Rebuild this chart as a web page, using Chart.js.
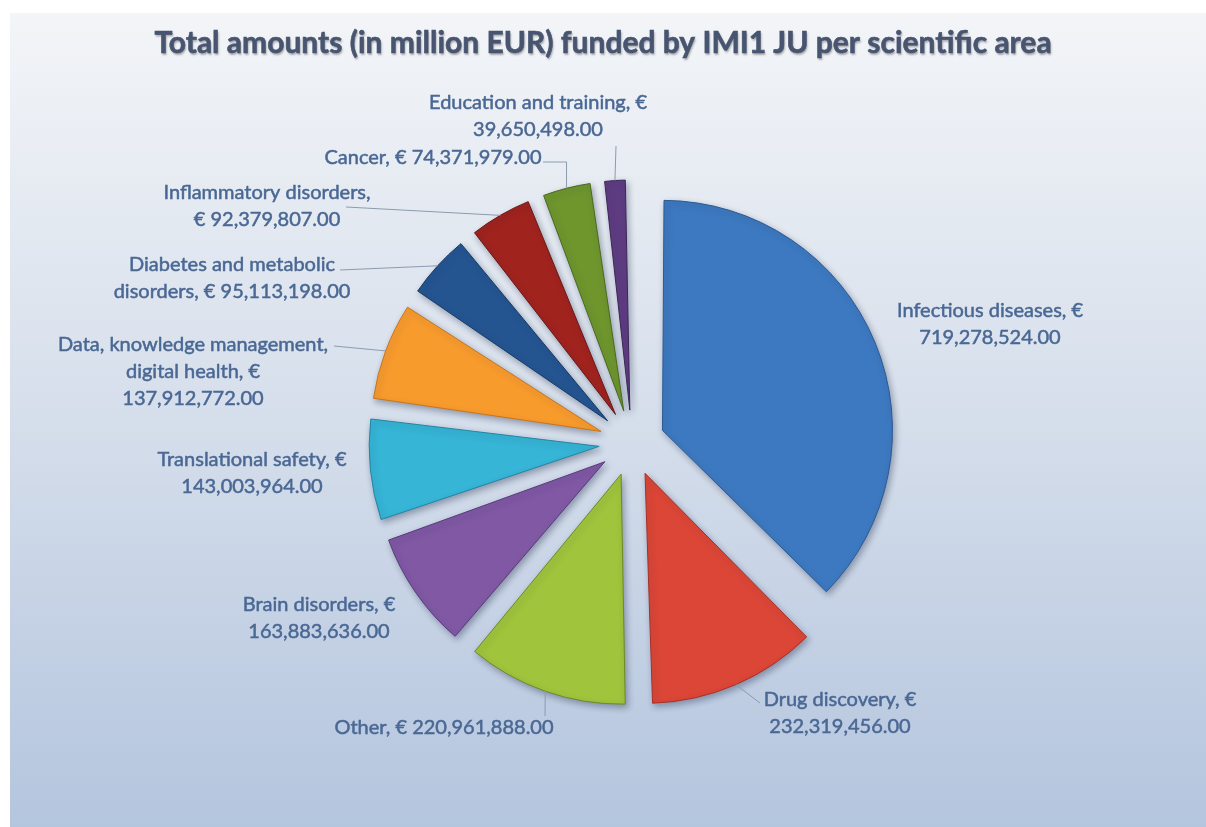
<!DOCTYPE html>
<html>
<head>
<meta charset="utf-8">
<script src="https://cdn.jsdelivr.net/npm/chart.js"></script>
<style>
  html, body { margin: 0; padding: 0; background: #fff; }
  #wrap { width: 1206px; height: 827px; position: relative; }
</style>
</head>
<body>
<div id="wrap"><canvas id="areaChart"></canvas></div>
<script>
// data
const areas = ['Infectious diseases', 'Drug discovery', 'Other', 'Brain disorders',
  'Translational safety', 'Data, knowledge management, digital health',
  'Diabetes and metabolic disorders', 'Inflammatory disorders', 'Cancer', 'Education and training'];
const amounts = [719278524.00, 232319456.00, 220961888.00, 163883636.00, 143003964.00,
  137912772.00, 95113198.00, 92379807.00, 74371979.00, 39650498.00];
const titleText = 'Total amounts (in million EUR) funded by IMI1 JU per scientific area';

const sliceColors = ['#3d79c0', '#db4636', '#a0c43c', '#8058a4', '#36b5d6',
  '#f89b2d', '#245591', '#a0231e', '#6e962d', '#5f3c82'];
const edgeColors = ['#2b5a94', '#a8302a', '#6d8a25', '#5a3a7c', '#2286a3',
  '#c8761a', '#173a66', '#6e1612', '#4a6a1d', '#3e2658'];

// label layout: words per line, centre x, y of first line, leader anchor (null = none)
const labelLayout = [
  {lines: [3, 1], x: 990, y: 311, anchor: null},
  {lines: [3, 1], x: 840, y: 700, anchor: [760, 703]},
  {lines: [3], x: 444, y: 728, anchor: [545, 716]},
  {lines: [3, 1], x: 319, y: 605, anchor: null},
  {lines: [3, 1], x: 252, y: 460, anchor: null},
  {lines: [3, 3, 1], x: 193, y: 345, anchor: [334, 346]},
  {lines: [3, 3], x: 232, y: 265, anchor: [340, 270]},
  {lines: [2, 2], x: 267, y: 193, anchor: [346, 207]},
  {lines: [3], x: 433, y: 158, anchor: [543, 162], elbow: true},
  {lines: [4, 1], x: 538, y: 103, anchor: [616, 146]}
];

const RADIUS = 230;
const EXPLODE = 33;

function fmt(v) {
  return v.toLocaleString('en-US', {minimumFractionDigits: 2, maximumFractionDigits: 2});
}

const pieDecor = {
  id: 'pieDecor',
  beforeDraw(chart) {
    const ctx = chart.ctx;
    ctx.save();
    ctx.fillStyle = '#ffffff';
    ctx.fillRect(0, 0, chart.width, chart.height);
    const g = ctx.createLinearGradient(0, 13, 0, chart.height);
    g.addColorStop(0, '#f3f5f8');
    g.addColorStop(0.5, '#d5deeb');
    g.addColorStop(1, '#b4c5de');
    ctx.fillStyle = g;
    ctx.fillRect(10, 13, chart.width - 10, chart.height - 13);

    ctx.font = 'bold 30px Lato';
    ctx.textAlign = 'center';
    ctx.textBaseline = 'middle';
    ctx.shadowColor = 'rgba(0,0,0,0.3)';
    ctx.shadowBlur = 2;
    ctx.shadowOffsetX = 1;
    ctx.shadowOffsetY = 2;
    ctx.fillStyle = '#485570';
    ctx.strokeStyle = '#485570';
    ctx.lineWidth = 0.6;
    ctx.fillText(titleText, 603, 43);
    ctx.shadowColor = 'transparent';
    ctx.strokeText(titleText, 603, 43);
    ctx.restore();
  },
  afterUpdate(chart) {
    // chart.js grows exploded arcs a bit; bring every slice back to the same radius
    chart.getDatasetMeta(0).data.forEach(arc => {
      const off = (arc.options.offset || 0) / 4;
      arc.outerRadius = RADIUS - off * (1 - Math.sin(Math.min(Math.PI, arc.circumference)));
    });
  },
  beforeDatasetsDraw(chart) {
    const ctx = chart.ctx;
    ctx.save();
    ctx.shadowColor = 'rgba(20,30,60,0.35)';
    ctx.shadowBlur = 6;
    ctx.shadowOffsetX = 2;
    ctx.shadowOffsetY = 3;
  },
  afterDatasetsDraw(chart) {
    const ctx = chart.ctx;
    ctx.restore();
    ctx.save();
    const arcs = chart.getDatasetMeta(0).data;
    ctx.font = '20px Lato';
    ctx.textAlign = 'center';
    ctx.textBaseline = 'middle';
    arcs.forEach((arc, i) => {
      const lay = labelLayout[i];
      const mid = (arc.startAngle + arc.endAngle) / 2;
      const ex = arc.x + Math.cos(mid) * (EXPLODE + RADIUS);
      const ey = arc.y + Math.sin(mid) * (EXPLODE + RADIUS);
      if (lay.anchor) {
        ctx.strokeStyle = '#8c9bb0';
        ctx.lineWidth = 1;
        ctx.beginPath();
        ctx.moveTo(lay.anchor[0], lay.anchor[1]);
        if (lay.elbow) ctx.lineTo(ex, lay.anchor[1]);
        ctx.lineTo(ex, ey);
        ctx.stroke();
      }
      const words = (areas[i] + ', € ' + fmt(amounts[i])).split(' ');
      let k = 0;
      ctx.fillStyle = '#4a6894';
      ctx.strokeStyle = '#4a6894';
      ctx.lineWidth = 0.5;
      lay.lines.forEach((n, j) => {
        const line = words.slice(k, k + n).join(' ');
        k += n;
        ctx.fillText(line, lay.x, lay.y + j * 27);
        ctx.strokeText(line, lay.x, lay.y + j * 27);
      });
    });
    ctx.restore();
  }
};

new Chart(document.getElementById('areaChart').getContext('2d'), {
  type: 'pie',
  data: {
    labels: areas,
    datasets: [{
      data: amounts,
      backgroundColor: sliceColors,
      borderColor: edgeColors,
      borderWidth: 1,
      offset: EXPLODE * 4
    }]
  },
  options: {
    responsive: true,
    maintainAspectRatio: false,
    animation: false,
    radius: RADIUS,
    layout: {padding: {top: 59, left: 58, right: 0, bottom: 0}},
    plugins: {
      legend: {display: false},
      title: {display: false},
      tooltip: {enabled: false}
    }
  },
  plugins: [pieDecor]
});
</script>
</body>
</html>
